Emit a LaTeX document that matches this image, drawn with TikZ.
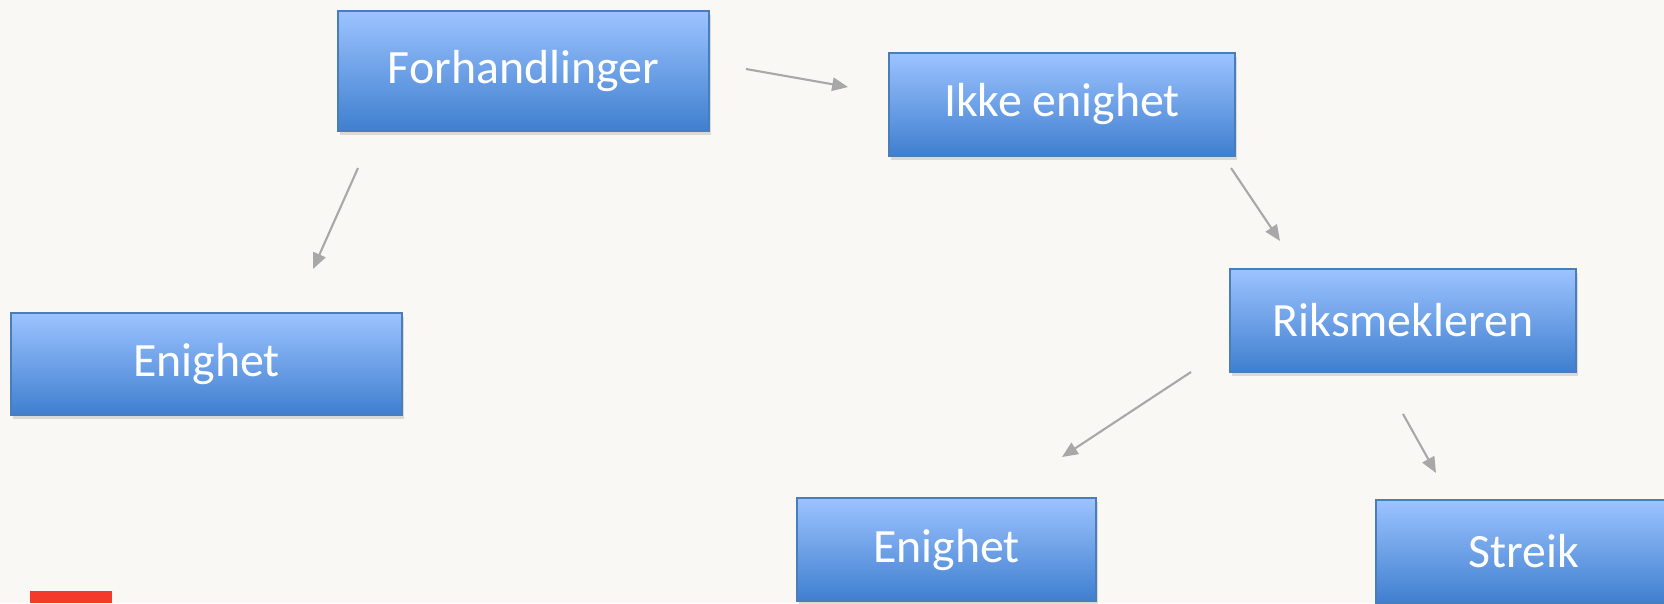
\documentclass[tikz,border=0pt]{standalone}
\usepackage{fontspec}
\setmainfont{Carlito}
\usetikzlibrary{arrows.meta,shadows}
\definecolor{bgpaper}{HTML}{F9F8F4}
\definecolor{boxtop}{HTML}{9CC3FF}
\definecolor{boxbot}{HTML}{3F7FCF}
\definecolor{boxline}{HTML}{4A7EBB}
\definecolor{arrgray}{HTML}{A8A8A8}
\definecolor{logored}{HTML}{F43B2B}

\begin{document}
\begin{tikzpicture}[x=0.01cm, y=-0.01cm,
    box/.style={draw=boxline, line width=0.5pt, top color=boxtop, bottom color=boxbot,
        text=white, font=\fontsize{13.6}{16}\selectfont, inner sep=0pt,
        drop shadow={shadow xshift=0.6pt, shadow yshift=-1.2pt, opacity=0.25}},
    arr/.style={draw=arrgray, line width=0.6pt, -{Triangle[length=4.5pt,width=3.8pt]}}]
    \useasboundingbox (0,0) rectangle (1664,603);
    \clip (0,0) rectangle (1664,603);
    \fill[bgpaper] (0,0) rectangle (1664,603);
    \fill[logored] (30,591) rectangle (112,603);

    \node[box, minimum width=3.71cm, minimum height=1.2cm] (forh) at (523.5,71) {Forhandlinger};
    \node[box, minimum width=3.46cm, minimum height=1.03cm] (ikke) at (1062,104.5) {Ikke enighet};
    \node[box, minimum width=3.91cm, minimum height=1.02cm] (enig1) at (206.5,364) {Enighet};
    \node[box, minimum width=3.46cm, minimum height=1.03cm] (riks) at (1403,320.5) {Riksmekleren};
    \node[box, minimum width=2.99cm, minimum height=1.03cm] (enig2) at (946.5,549.5) {Enighet};
    \node[box, minimum width=2.96cm, minimum height=1.03cm] (streik) at (1524,551.5) {Streik};

    \coordinate (forh-r) at (746,69);
    \coordinate (ikke-l) at (848,87);
    \coordinate (forh-b) at (358,168);
    \coordinate (enig1-t) at (313,269);
    \coordinate (ikke-b) at (1231,168);
    \coordinate (riks-t) at (1280,241);
    \coordinate (riks-bl) at (1191,372);
    \coordinate (enig2-t) at (1062,457);
    \coordinate (riks-br) at (1403,414);
    \coordinate (streik-t) at (1436,473);

    \draw[arr] (forh-r) -- (ikke-l);
    \draw[arr] (forh-b) -- (enig1-t);
    \draw[arr] (ikke-b) -- (riks-t);
    \draw[arr] (riks-bl) -- (enig2-t);
    \draw[arr] (riks-br) -- (streik-t);
\end{tikzpicture}
\end{document}
